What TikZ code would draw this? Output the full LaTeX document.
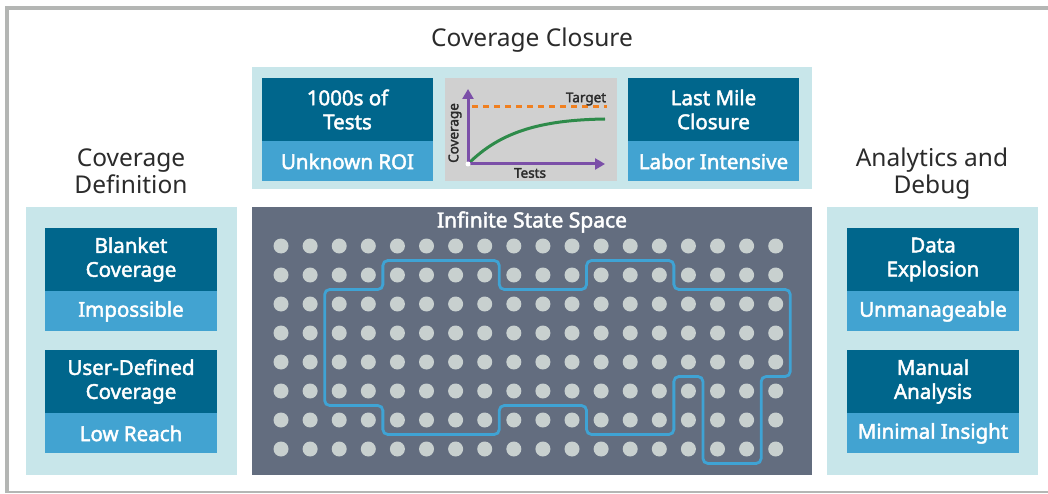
\documentclass[tikz,border=0pt]{standalone}
\usepackage{fontspec}
\setmainfont{Noto Sans}[AutoFakeBold=2.2]
\usepackage{xcolor}
\usepackage{tikz}
\usetikzlibrary{arrows.meta}
\usetikzlibrary{positioning}
\definecolor{frameGray}{HTML}{B4B6B4}
\definecolor{panelCyan}{HTML}{C8E6EA}
\definecolor{boxDark}{HTML}{00668C}
\definecolor{boxLight}{HTML}{42A3D1}
\definecolor{spaceGray}{HTML}{636D7F}
\definecolor{dotGray}{HTML}{C8D0CF}
\definecolor{chartGray}{HTML}{D0D0D0}
\definecolor{curveGreen}{HTML}{2E8B4A}
\definecolor{axisPurple}{HTML}{7B4FA8}
\definecolor{targetOrange}{HTML}{F07F1F}
\definecolor{headText}{HTML}{2B2B2B}
\definecolor{pathBlue}{HTML}{3FA3D4}
\tikzset{%
  panel/.style={
    fill=panelCyan
  },
  issue box/.style={
    rectangle,
    fill=boxDark,
    text=white,
    align=center,
    inner sep=0pt,
    minimum width=172pt,
    minimum height=63pt,
    font=\fontsize{20.5}{24}\selectfont\bfseries
  },
  effect box/.style={
    rectangle,
    fill=boxLight,
    text=white,
    inner sep=0pt,
    minimum width=172pt,
    minimum height=40pt,
    font=\fontsize{20.5}{24}\selectfont\bfseries
  },
  heading/.style={
    text=headText,
    align=center,
    font=\fontsize{24.5}{27}\selectfont
  },
  state dot/.style={
    circle,
    fill=dotGray,
    inner sep=0pt,
    minimum size=15pt
  },
  chart label/.style={
    text=headText,
    inner sep=0pt,
    font=\fontsize{13.5}{15}\selectfont\bfseries
  },
}

\begin{document}
\begin{tikzpicture}[x=1pt,y=-1pt]
  \useasboundingbox (0,0) rectangle (1048,494);
  \draw [frameGray, line width=4pt] (1052,8) -- (7,8) -- (7,491);
  \draw [frameGray, line width=2.5pt] (5,492) -- (1052,492);

  % headings
  \node (closure) [heading] at (532,40) {Coverage Closure};
  \node (definition) [heading] at (131,171) {Coverage\\Definition};
  \node (analytics) [heading] at (932,173.5) {Analytics and\\Debug};

  % panels
  \fill [panel] (252,67) rectangle (812,189);
  \fill [panel] (26,207) rectangle (237,475);
  \fill [panel] (827,207) rectangle (1038,475);
  \fill [spaceGray] (252,207) rectangle (812,475);

  % top row
  \node (tests) [issue box, minimum width=171pt] at (347.5,109.5) {1000s of\\Tests};
  \node (roi) [effect box, minimum width=171pt, below=0pt of tests] {Unknown ROI};
  \node (lastmile) [issue box, minimum width=171pt] at (713.5,109.5) {Last Mile\\Closure};
  \node (labor) [effect box, minimum width=171pt, below=0pt of lastmile] {Labor Intensive};

  % coverage chart
  \fill [chartGray] (445,78) rectangle (617,181);
  \coordinate (origin) at (468,164);
  \coordinate (ytop) at (468,89);
  \coordinate (xend) at (605,164);
  \coordinate (tstart) at (472,107);
  \coordinate (tend) at (607,107);
  \coordinate (cend) at (605,119);
  \draw [targetOrange, line width=3pt, dash pattern=on 6pt off 5pt] (tstart) -- (tend);
  \draw [curveGreen, line width=3pt] (origin) .. controls (500,132) and (540,120) .. (cend);
  \draw [axisPurple, line width=3pt, -{Triangle[length=10pt,width=11pt]}] (origin) -- (ytop);
  \draw [axisPurple, line width=3pt, -{Triangle[length=10pt,width=11pt]}] (origin) -- (xend);
  \fill [white] (origin) circle (2.5pt);
  \node (target) [chart label] at (586,99) {Target};
  \node (xlabel) [chart label] at (530,173) {Tests};
  \node (ylabel) [chart label, rotate=90] at (455,133) {Coverage};

  % left column
  \node (blanket) [issue box] at (131,259.5) {Blanket\\Coverage};
  \node (impossible) [effect box, below=0pt of blanket] {Impossible};
  \node (userdef) [issue box] at (131,381.5) {User-Defined\\Coverage};
  \node (lowreach) [effect box, below=0pt of userdef] {Low Reach};

  % right column
  \node (explosion) [issue box] at (933,259.5) {Data\\Explosion};
  \node (unmanage) [effect box, below=0pt of explosion] {Unmanageable};
  \node (manual) [issue box] at (933,381.5) {Manual\\Analysis};
  \node (insight) [effect box, below=0pt of manual] {Minimal Insight};

  % state space
  \node (space) [text=white, font=\fontsize{21}{24}\selectfont\bfseries] at (532,222) {Infinite State Space};
  \begin{scope}[shift={(281,246)}, x=29.1pt, y=-29pt]
    \foreach \i in {0,...,17}
      \foreach \j in {0,...,7}
        \node (d-\i-\j) [state dot] at (\i,\j) {};
    \draw [pathBlue, line width=2.8pt, rounded corners=5pt]
      (3.5,0.5) -- (7.5,0.5) -- (7.5,1.5) -- (10.5,1.5) -- (10.5,0.5)
      -- (13.5,0.5) -- (13.5,1.5) -- (17.5,1.5) -- (17.5,4.5) -- (16.5,4.5)
      -- (16.5,7.5) -- (14.5,7.5) -- (14.5,4.5) -- (13.5,4.5) -- (13.5,6.5)
      -- (10.5,6.5) -- (10.5,5.5) -- (7.5,5.5) -- (7.5,6.5) -- (3.5,6.5)
      -- (3.5,5.5) -- (1.5,5.5) -- (1.5,1.5) -- (3.5,1.5) -- cycle;
  \end{scope}
\end{tikzpicture}
\end{document}
